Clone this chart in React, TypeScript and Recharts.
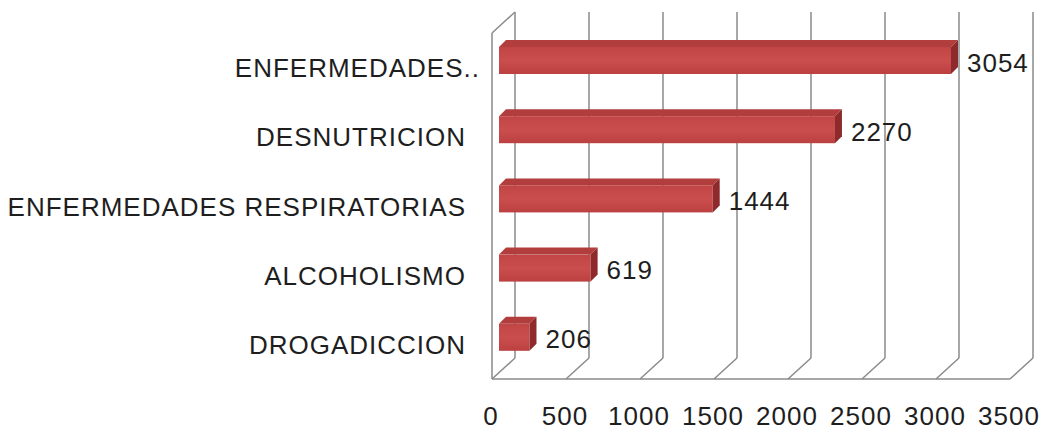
import { BarChart, Bar, XAxis, YAxis, CartesianGrid, LabelList } from "recharts";

const CATEGORIES = [
  "ENFERMEDADES..",
  "DESNUTRICION",
  "ENFERMEDADES RESPIRATORIAS",
  "ALCOHOLISMO",
  "DROGADICCION",
];
const VALUES = [3054, 2270, 1444, 619, 206];
const X_TICKS = [0, 500, 1000, 1500, 2000, 2500, 3000, 3500];

// depth of the 3D box (front plane -> back wall)
const DX = 23;
const DY = -21;
// bar sits a bit behind the front plane
const BAR_DX = 7;
const BAR_DY = -7;
const BAR_DEPTH = 7;

const FONT = "'Liberation Sans', Arial, sans-serif";
const GRID = "#8a8a8a";
const TEXT = "#1e1e1e";

const data = CATEGORIES.map((name, i) => ({ name, value: VALUES[i] }));

function GridLine(props: any) {
  const { x1, y1, y2, index } = props;
  const bx = x1 + DX;
  return (
    <g key={`grid-${index}`}>
      <line x1={bx} y1={y1 + DY} x2={bx} y2={y2 + DY} stroke={GRID} strokeWidth={1.5} />
      <line x1={x1} y1={y2} x2={bx} y2={y2 + DY} stroke={GRID} strokeWidth={1.5} />
      {index === 0 ? (
        <line x1={x1} y1={y1} x2={bx} y2={y1 + DY} stroke={GRID} strokeWidth={1.5} />
      ) : null}
    </g>
  );
}

function Bar3D(props: any) {
  const { x, y, width, height } = props;
  if (!width || width <= 0) return null;
  const fx = x + BAR_DX;
  const fy = y + BAR_DY;
  const d = BAR_DEPTH;
  const top = `M${fx},${fy} L${fx + width},${fy} L${fx + width + d},${fy - d} L${fx + d},${fy - d} Z`;
  const side = `M${fx + width},${fy} L${fx + width + d},${fy - d} L${fx + width + d},${fy - d + height} L${fx + width},${fy + height} Z`;
  return (
    <g>
      <path d={top} fill="#b23d3d" />
      <rect x={fx} y={fy} width={width} height={height} fill="url(#barFace)" />
      <path d={side} fill="#8e2a2b" />
    </g>
  );
}

function ValueLabel(props: any) {
  const { x, y, width, height, value } = props;
  const cx = x + width + BAR_DX + BAR_DEPTH + 9;
  const cy = y + BAR_DY + height / 2;
  return (
    <text x={cx} y={cy + 11} fontSize={26} letterSpacing={1} fontFamily={FONT} fill={TEXT}>
      {value}
    </text>
  );
}

function CategoryTick(props: any) {
  const { x, y, payload } = props;
  const label: string = payload.value;
  const shift = label.endsWith("..") ? 14 : 0;
  return (
    <text
      x={x - 26 + shift}
      y={y + 9.5}
      textAnchor="end"
      fontSize={26}
      letterSpacing={1}
      fontFamily={FONT}
      fill={TEXT}
    >
      {label}
    </text>
  );
}

function ValueTick(props: any) {
  const { x, y, payload } = props;
  return (
    <text
      x={x - 1}
      y={y + 46}
      textAnchor="middle"
      fontSize={26}
      letterSpacing={1}
      fontFamily={FONT}
      fill={TEXT}
    >
      {payload.value}
    </text>
  );
}

export default function App() {
  return (
    <div style={{ position: "absolute", left: 0, top: 0, background: "#fff" }}>
      <BarChart
        width={1042}
        height={431}
        data={data}
        layout="vertical"
        margin={{ top: 33, right: 32, bottom: 0, left: 0 }}
      >
        <defs>
          <linearGradient id="barFace" x1="0" y1="0" x2="0" y2="1">
            <stop offset="0%" stopColor="#c24545" />
            <stop offset="50%" stopColor="#ca4e4d" />
            <stop offset="100%" stopColor="#bc4040" />
          </linearGradient>
        </defs>
        <CartesianGrid horizontal={false} vertical={GridLine} />
        <XAxis
          type="number"
          domain={[0, 3500]}
          ticks={X_TICKS}
          height={52}
          tickLine={false}
          tickSize={0}
          tickMargin={0}
          axisLine={{ stroke: GRID, strokeWidth: 1.5 }}
          tick={ValueTick}
        />
        <YAxis
          type="category"
          dataKey="name"
          width={492}
          tickLine={false}
          tickSize={0}
          tickMargin={0}
          axisLine={{ stroke: GRID, strokeWidth: 1.5 }}
          tick={CategoryTick}
        />
        <Bar dataKey="value" barSize={27} isAnimationActive={false} shape={Bar3D}>
          <LabelList dataKey="value" content={ValueLabel} />
        </Bar>
      </BarChart>
    </div>
  );
}
